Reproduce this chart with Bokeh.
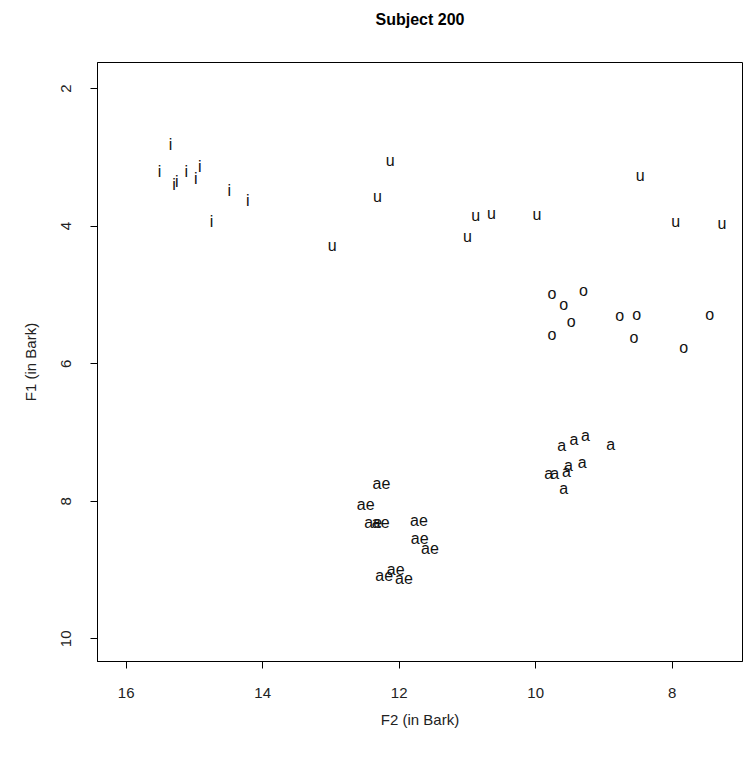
from bokeh.plotting import figure
from bokeh.models import Range1d, FixedTicker, ColumnDataSource, Title
from bokeh.core.properties import value
from bokeh.embed import file_html
from bokeh.resources import INLINE

# F2 (x, in Bark) and F1 (y, in Bark) per vowel label
i_f2 = [15.35, 15.51, 15.30, 15.26, 15.12, 14.98, 14.92, 14.49, 14.22, 14.75]
i_f1 = [2.81, 3.20, 3.40, 3.35, 3.20, 3.30, 3.13, 3.48, 3.62, 3.93]

u_f2 = [12.13, 12.32, 12.98, 10.88, 10.65, 11.00, 9.98, 8.47, 7.95, 7.27]
u_f1 = [3.04, 3.57, 4.28, 3.85, 3.81, 4.15, 3.83, 3.26, 3.93, 3.96]

o_f2 = [9.76, 9.30, 9.59, 9.48, 9.76, 8.77, 8.52, 8.56, 7.45, 7.83]
o_f1 = [4.98, 4.94, 5.14, 5.39, 5.57, 5.30, 5.28, 5.62, 5.28, 5.77]

a_f2 = [9.62, 9.44, 9.27, 8.90, 9.81, 9.72, 9.55, 9.52, 9.32, 9.59]
a_f1 = [7.19, 7.10, 7.05, 7.18, 7.60, 7.60, 7.57, 7.48, 7.44, 7.81]

ae_f2 = [12.26, 12.49, 12.38, 12.27, 11.71, 11.70, 11.55, 12.22, 12.05, 11.93]
ae_f1 = [7.74, 8.04, 8.31, 8.31, 8.28, 8.54, 8.68, 9.08, 8.99, 9.12]

x_ticks = [16, 14, 12, 10, 8]
y_ticks = [2, 4, 6, 8, 10]

labels, xs, ys = [], [], []
for lab, fx, fy in [("i", i_f2, i_f1), ("u", u_f2, u_f1), ("o", o_f2, o_f1),
                    ("a", a_f2, a_f1), ("ae", ae_f2, ae_f1)]:
    labels += [lab] * len(fx)
    xs += fx
    ys += fy

src = ColumnDataSource(dict(x=xs, y=ys, t=labels))

FONT = "Liberation Sans"

p = figure(width=746, height=749, output_backend="svg", toolbar_location=None,
           x_range=Range1d(16.42, 6.97), y_range=Range1d(10.33, 1.62),
           min_border_left=97, min_border_right=4, min_border_top=62,
           min_border_bottom=88, title="Subject 200")

p.text(x="x", y="y", text="t", source=src, text_align="center",
       text_baseline="middle", text_font=value(FONT), text_font_size="16px",
       text_color="#111111")

p.xgrid.visible = False
p.ygrid.visible = False
p.outline_line_color = "black"
p.outline_line_width = 1
p.background_fill_color = "white"
p.border_fill_color = "white"

p.title.align = "center"
p.title.text_font = FONT
p.title.text_font_style = "bold"
p.title.text_font_size = "16px"
p.title.text_color = "black"
p.title.standoff = 0

# blank spacer between the title and the plot box
p.add_layout(Title(text=" ", text_font_size="1px", standoff=32), "above")

p.xaxis.ticker = FixedTicker(ticks=x_ticks)
p.yaxis.ticker = FixedTicker(ticks=y_ticks)
p.yaxis.major_label_orientation = "vertical"
p.xaxis.axis_label = "F2 (in Bark)"
p.yaxis.axis_label = "F1 (in Bark)"
for ax in (p.xaxis[0], p.yaxis[0]):
    ax.minor_tick_line_color = None
    ax.major_tick_in = 0
    ax.major_tick_out = 7
    ax.major_tick_line_color = "black"
    ax.axis_line_color = "black"
    ax.major_label_text_font = FONT
    ax.major_label_text_font_size = "15px"
    ax.major_label_text_color = "#222222"
    ax.axis_label_text_font = FONT
    ax.axis_label_text_font_size = "15px"
    ax.axis_label_text_font_style = "normal"
    ax.axis_label_text_color = "#222222"
p.xaxis.major_label_standoff = 19
p.xaxis.axis_label_standoff = 10
p.yaxis.major_label_standoff = 19
p.yaxis.axis_label_standoff = 20

open("out.html", "w").write(file_html(p, INLINE))
